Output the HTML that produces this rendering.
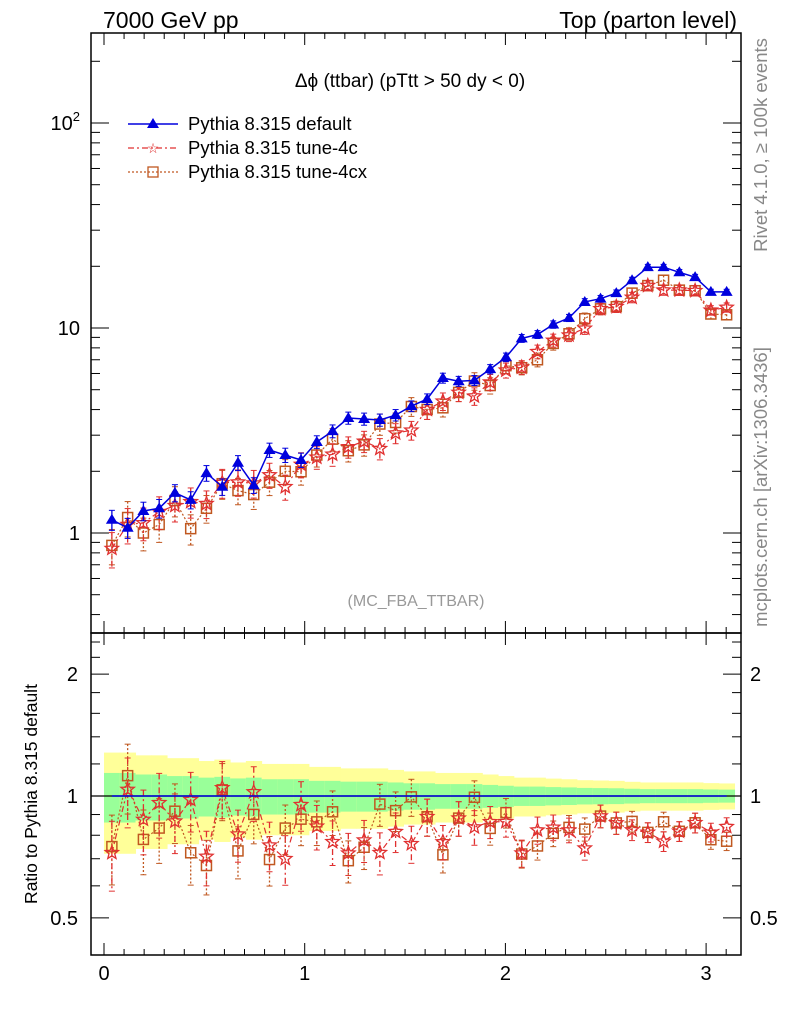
<!DOCTYPE html>
<html><head><meta charset="utf-8"><style>
body{margin:0;background:#fff;}
svg{font-family:"Liberation Sans",sans-serif;}
</style></head><body>
<svg id="chart" width="786" height="1024" viewBox="0 0 786 1024" xmlns="http://www.w3.org/2000/svg">
<text x="103" y="28" font-size="23">7000 GeV pp</text>
<text x="737" y="28" font-size="23" text-anchor="end">Top (parton level)</text>
<text x="410" y="87" font-size="19" text-anchor="middle">Δϕ (ttbar) (pTtt &gt; 50 dy &lt; 0)</text>
<text x="416" y="606" font-size="16" fill="#999" text-anchor="middle">(MC_FBA_TTBAR)</text>
<text transform="translate(767,145) rotate(-90)" font-size="18.5" fill="#888" text-anchor="middle">Rivet 4.1.0, ≥ 100k events</text>
<text transform="translate(767,487) rotate(-90)" font-size="18.5" fill="#888" text-anchor="middle">mcplots.cern.ch [arXiv:1306.3436]</text>
<text transform="translate(37,794) rotate(-90)" font-size="17.5" text-anchor="middle">Ratio to Pythia 8.315 default</text>
<g id="bands"></g><g id="grid"></g><g id="marks"></g>
<g>
 <g><line x1="128" y1="124" x2="178" y2="124" stroke="#0000dd" stroke-width="1.5"/><polygon points="153,118 159,128 147,128" fill="#0000dd"/><text x="188" y="130" font-size="18.5">Pythia 8.315 default</text></g>
 <g><line x1="128" y1="148" x2="178" y2="148" stroke="#e03030" stroke-width="1.2" stroke-dasharray="6,3,2,3"/><text x="153" y="153" font-size="14" fill="#e03030" text-anchor="middle">☆</text><text x="188" y="154" font-size="18.5">Pythia 8.315 tune-4c</text></g>
 <g><line x1="128" y1="172" x2="178" y2="172" stroke="#c05820" stroke-width="1.2" stroke-dasharray="2,2"/><rect x="148" y="167" width="10" height="10" fill="none" stroke="#c05820" stroke-width="1.3"/><text x="188" y="178" font-size="18.5">Pythia 8.315 tune-4cx</text></g>
</g>
</svg>
<script>
const defaultVals=[1.16,1.06,1.28,1.32,1.57,1.45,1.96,1.68,2.2,1.71,2.54,2.4,2.27,2.78,3.14,3.64,3.6,3.56,3.76,4.16,4.5,5.7,5.5,5.55,6.3,7.2,8.9,9.3,10.4,11.2,13.4,13.9,14.8,17.1,19.8,19.8,18.7,17.7,15,15];
const tune4cVals=[0.84,1.10,1.12,1.27,1.36,1.42,1.39,1.76,1.77,1.75,1.92,1.68,2.16,2.34,2.42,2.63,2.80,2.58,3.07,3.17,4.0,4.39,4.85,4.65,5.44,6.22,6.43,7.66,8.7,9.23,9.96,12.4,12.7,14.1,16.1,15.3,15.3,15.2,12.2,12.6];
const tune4cxVals=[0.87,1.19,1.00,1.10,1.44,1.05,1.32,1.74,1.61,1.54,1.77,2.00,1.99,2.40,2.87,2.52,2.69,3.40,3.46,4.14,4.0,4.08,4.85,5.51,5.24,6.55,6.40,7.0,8.41,9.37,11.1,12.4,12.7,14.8,16.1,17.1,15.3,15.2,11.7,11.6];
const relErr=[0.14,0.14,0.13,0.13,0.12,0.12,0.11,0.115,0.105,0.11,0.10,0.10,0.10,0.09,0.09,0.085,0.085,0.085,0.08,0.075,0.075,0.07,0.07,0.07,0.065,0.06,0.055,0.055,0.052,0.05,0.047,0.046,0.045,0.042,0.04,0.04,0.04,0.04,0.038,0.037];
const xTicks=[0,1,2,3];
const mainTicks=[1,10,100];
const ratioTicks=[0.5,1,2];
const NS="http://www.w3.org/2000/svg";
const L=91,R=741,T=33,M=633,B=955;
const nb=defaultVals.length, bw=Math.PI/nb;
const xs=v=>104+200.7*v;
const ym=v=>533-205*Math.log10(v);
const yr=v=>796-405*Math.log10(v);
function mk(tag,at,parent){const e=document.createElementNS(NS,tag);for(const k in at)e.setAttribute(k,at[k]);parent.appendChild(e);return e;}
const bands=document.getElementById('bands'),grid=document.getElementById('grid'),marks=document.getElementById('marks');
for(let i=0;i<nb;i++){
 const x0=xs(i*bw),x1=xs((i+1)*bw);
 const y=mk('rect',{x:x0,y:yr(1+2*relErr[i]),width:x1-x0+0.5,height:yr(1-2*relErr[i])-yr(1+2*relErr[i]),fill:'#ffff99'},bands);
 
 
 const g=mk('rect',{x:x0,y:yr(1+relErr[i]),width:x1-x0+0.5,height:yr(1-relErr[i])-yr(1+relErr[i]),fill:'#99ff99'},bands);
 
 
}
const f1=mk('rect',{x:L,y:T,width:R-L,height:M-T,fill:'none',stroke:'#000','stroke-width':1.5},grid);


const f2=mk('rect',{x:L,y:M,width:R-L,height:B-M,fill:'none',stroke:'#000','stroke-width':1.5},grid);


const ref=mk('line',{x1:L,x2:R,y1:yr(1),y2:yr(1),stroke:'#000','stroke-width':1.2},grid);


for(let v=0;v<=3.15;v+=0.1){
 const maj=Math.abs(v-Math.round(v))<1e-6, len=maj?12:6;
 mk('line',{x1:xs(v),x2:xs(v),y1:B,y2:B-len,stroke:'#000'},grid);
 mk('line',{x1:xs(v),x2:xs(v),y1:M,y2:M-len,stroke:'#000'},grid);
 mk('line',{x1:xs(v),x2:xs(v),y1:M,y2:M+len,stroke:'#000'},grid);
 mk('line',{x1:xs(v),x2:xs(v),y1:T,y2:T+len,stroke:'#000'},grid);
}
xTicks.forEach(v=>{const t=mk('text',{x:xs(v),y:980,'font-size':20,'text-anchor':'middle'},grid);t.textContent=v;
 
 });
for(let d=0.1;d<=100;d*=10){for(let k=1;k<10;k++){const v=d*k;const y=ym(v);if(y<T||y>M)continue;const len=k==1?18:9;
 mk('line',{x1:L,x2:L+len,y1:y,y2:y,stroke:'#000'},grid);mk('line',{x1:R,x2:R-len,y1:y,y2:y,stroke:'#000'},grid);}}
mainTicks.forEach(v=>{const t=mk('text',{x:80,y:ym(v)+7,'font-size':20,'text-anchor':'end'},grid);
 if(v==100){t.textContent='10';const s=mk('tspan',{dy:-9,'font-size':13},t);s.textContent='2';}else t.textContent=v;
 
 });
[0.5,0.6,0.7,0.8,0.9,1,1.2,1.4,1.6,1.8,2,2.2,2.4].forEach(v=>{const maj=ratioTicks.includes(v);const len=maj?18:9;const y=yr(v);
 mk('line',{x1:L,x2:L+len,y1:y,y2:y,stroke:'#000'},grid);mk('line',{x1:R,x2:R-len,y1:y,y2:y,stroke:'#000'},grid);});
ratioTicks.forEach(v=>{const t=mk('text',{x:78,y:yr(v)+7,'font-size':20,'text-anchor':'end'},grid);t.textContent=v;
 
 
 const t2=mk('text',{x:750,y:yr(v)+7,'font-size':20},grid);t2.textContent=v;
 
 });
function marker(kind,x,y,c,p){
 if(kind=='tri')return mk('polygon',{points:`${x},${y-6} ${x+6},${y+4} ${x-6},${y+4}`,fill:c},p);
 if(kind=='sq')return mk('rect',{x:x-5,y:y-5,width:10,height:10,fill:'none',stroke:c,'stroke-width':1.5},p);
 let pts=[];for(let k=0;k<10;k++){const r=k%2?3:7,a=-Math.PI/2+k*Math.PI/5;pts.push((x+r*Math.cos(a)).toFixed(1)+','+(y+r*Math.sin(a)).toFixed(1));}
 return mk('polygon',{points:pts.join(' '),fill:'none',stroke:c,'stroke-width':1.3},p);
}
function series(vals,name,c,kind,dash,ef){
 const g=mk('g',{},marks);
 
 
 ['main','ratio'].forEach(pan=>{
  const yf=pan=='main'?ym:yr;
  const vv=vals.map((v,i)=>pan=='main'?v:v/defaultVals[i]);
  const pts=vv.map((v,i)=>xs((i+0.5)*bw).toFixed(1)+','+yf(v).toFixed(1)).join(' ');
  const ln=mk('polyline',{points:pts,fill:'none',stroke:c,'stroke-width':name=='default'?1.5:1.2,'stroke-dasharray':dash},g);
  
  
  vv.forEach((v,i)=>{
   const x=xs((i+0.5)*bw),e=relErr[i]*ef;
   if(!(pan=='ratio'&&name=='default')){
    mk('line',{x1:x,x2:x,y1:yf(v*(1+e)),y2:yf(v*(1-e)),stroke:c,'stroke-width':1.3,'stroke-dasharray':dash},g);
    mk('line',{x1:x-3,x2:x+3,y1:yf(v*(1+e)),y2:yf(v*(1+e)),stroke:c},g);
    mk('line',{x1:x-3,x2:x+3,y1:yf(v*(1-e)),y2:yf(v*(1-e)),stroke:c},g);
    const m=marker(kind,x,yf(v),c,g);
    
    
   }
  });
 });
}
series(tune4cxVals,'tune-4cx','#c05820','sq','2,2',1.4);
series(tune4cVals,'tune-4c','#e03030','star','6,3,2,3',1.4);
series(defaultVals,'default','#0000dd','tri','',0.8);
</script>
</body></html>
